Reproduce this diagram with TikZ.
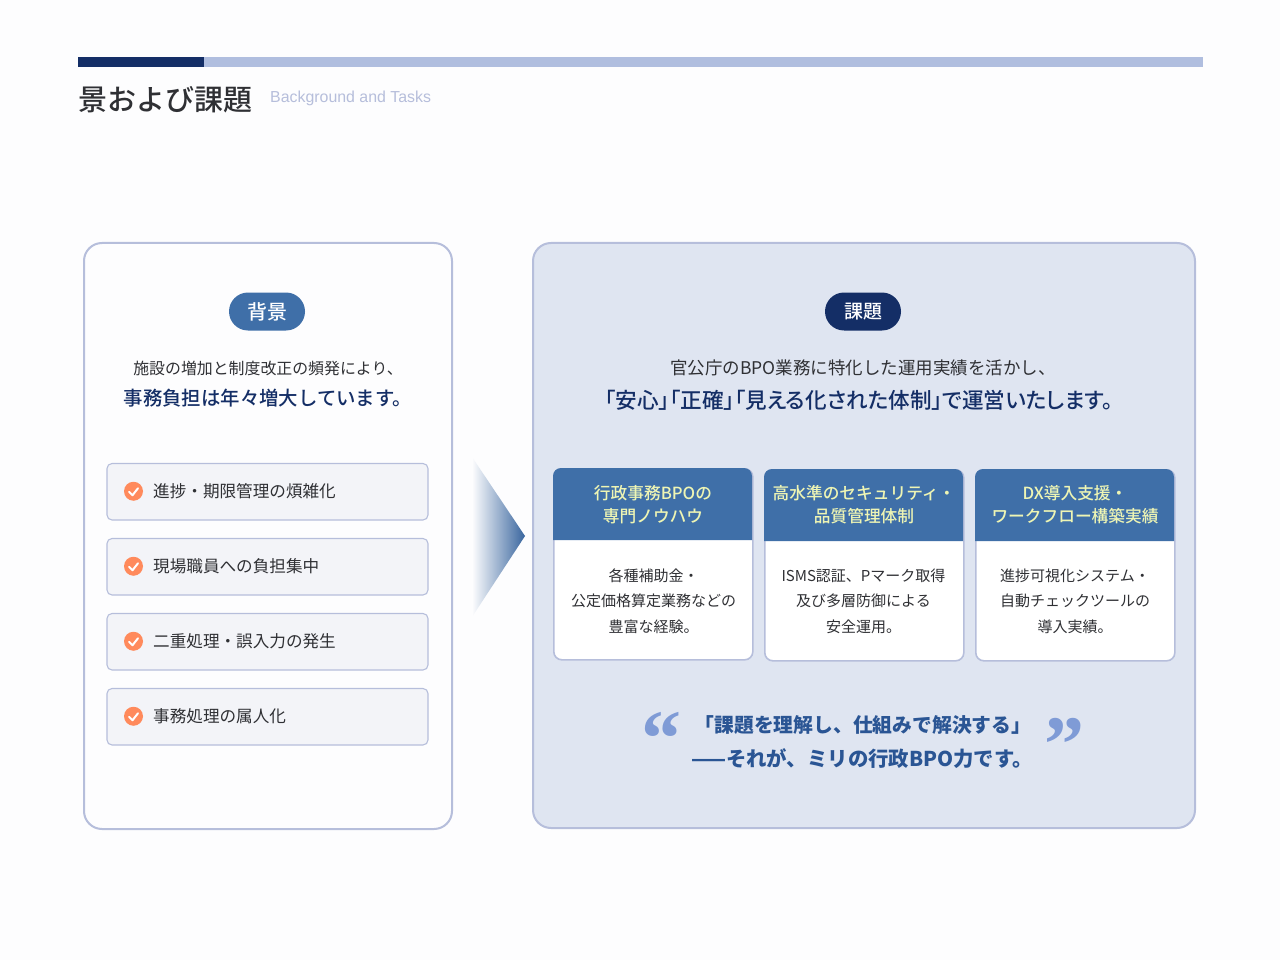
\documentclass[tikz,border=0pt]{standalone}
\usepackage{fontspec}
\setmainfont{Noto Sans CJK JP}
\newfontfamily\medfont{Noto Sans CJK JP Medium}
\newfontfamily\tightfont{Noto Sans CJK JP Medium}[RawFeature=+palt]
\newfontfamily\latinfont{Liberation Sans}
\newfontfamily\quotefont{Liberation Serif}
\usepackage{tikz}
\definecolor{navy}{HTML}{142E66}
\definecolor{midblue}{HTML}{3F6FA8}
\definecolor{barblue}{HTML}{B0BEDF}
\definecolor{edgeblue}{HTML}{B6BEDB}
\definecolor{paleblue}{HTML}{DFE5F1}
\definecolor{itemgrey}{HTML}{F3F4F8}
\definecolor{tickorange}{HTML}{FF8A5C}
\definecolor{inkgrey}{HTML}{2F3034}
\definecolor{capyellow}{HTML}{EEF5B4}
\definecolor{quoteblue}{HTML}{7F9BD6}
\definecolor{saytext}{HTML}{2A5594}
\definecolor{sheet}{HTML}{FDFDFE}
\newcommand{\fs}[2]{\fontsize{#1}{#2}\selectfont}

\begin{document}
\begin{tikzpicture}
  [x=1pt,y=-1pt,every node/.style={inner sep=0pt,text=inkgrey},
   panel/.style={draw=edgeblue,line width=2pt,rounded corners=18pt},
   pill/.style={rounded corners=19pt,minimum width=76pt,minimum height=38pt,text=white},
   item/.style={draw=edgeblue,line width=1.1pt,fill=itemgrey,rounded corners=5pt,minimum width=321pt,minimum height=56.5pt},
   tick/.style={circle,fill=tickorange,minimum size=19pt},
   card/.style={draw=edgeblue,line width=1.6pt,fill=white,rounded corners=8pt,minimum width=199pt,minimum height=191pt},
   captext/.style={align=center,text=capyellow,font=\medfont\fs{16.7}{23.5}},
   bodytext/.style={align=center,font=\fs{15}{25.5}}]
  \useasboundingbox (0,0) rectangle (1280,960);
  \fill[sheet] (0,0) rectangle (1280,960);

  \fill[navy] (78,57) rectangle (204,67);
  \fill[barblue] (204,57) rectangle (1203,67);
  \node[anchor=west,font=\medfont\fs{29}{29}] (title) at (78,100) {景および課題};
  \node[anchor=west,text=edgeblue,font=\latinfont\fs{15.9}{16}] (subtitle) at (270,98) {Background and Tasks};

  \node[panel,fill=sheet,minimum width=368pt,minimum height=586pt] (left) at (268,536) {};
  \node[panel,fill=paleblue,minimum width=662pt,minimum height=585pt] (right) at (864,535.5) {};

  \node[pill,fill=midblue,font=\medfont\fs{20}{20}] (bg) at (267,311.5) {背景};
  \node[pill,fill=navy,font=\medfont\fs{19}{19}] (task) at (863,311.5) {課題};

  \node[font=\fs{15.9}{16}] (bgone) at (268,368.5) {施設の増加と制度改正の頻発により、};
  \node[text=navy,font=\medfont\fs{19.4}{20}] (bgtwo) at (268,398) {事務負担は年々増大しています。};
  \node[font=\fs{17.5}{18}] (taskone) at (863,367.5) {官公庁のBPO業務に特化した運用実績を活かし、};
  \node[text=navy,font=\tightfont\fs{21.6}{22}] (tasktwo) at (859,400) {「安心」「正確」「見える化された体制」で運営いたします。};

  % list on the left
  \foreach \n/\y/\txt in {1/491.75/進捗・期限管理の煩雑化,2/566.75/現場職員への負担集中,3/641.75/二重処理・誤入力の発生,4/716.75/事務処理の属人化} {
    \node[item] (item\n) at (267.5,\y) {};
    \node[tick] (tick\n) at (133.5,\y-0.5) {};
    \draw[white,line width=2pt,line cap=round,line join=round]
      ([shift={(-4.5,0.5)}]tick\n.center) -- ([shift={(-1,4)}]tick\n.center) -- ([shift={(4.5,-3)}]tick\n.center);
    \node[anchor=west,font=\fs{16.6}{17}] (label\n) at (153,\y-0.75) {\txt};
  }

  % arrow between the panels
  \begin{scope}
    \clip (472,457) -- (525,536) -- (472,617) -- cycle;
    \shade[left color=sheet,right color=midblue!85!navy] (472,457) rectangle (525,617);
  \end{scope}

  % three cards
  \foreach \n/\xl/\yt in {1/553/468,2/764/469,3/975/469} {
    \node[card,anchor=north west] (card\n) at (\xl,\yt) {};
    \fill[midblue,rounded corners=8pt] (\xl,\yt+72) -- (\xl,\yt) -- (\xl+199,\yt) [sharp corners] -- (\xl+199,\yt+72) -- cycle;
  }
  \node[captext] (capone) at (653,504.5) {行政事務BPOの\\専門ノウハウ};
  \node[captext] (captwo) at (864,504.5) {高水準のセキュリティ・\\品質管理体制};
  \node[captext] (capthree) at (1075,504.5) {DX導入支援・\\ワークフロー構築実績};
  \node[bodytext] (bodyone) at (653.5,601) {各種補助金・\\公定価格算定業務などの\\豊富な経験。};
  \node[bodytext] (bodytwo) at (863.5,601) {ISMS認証、Pマーク取得\\及び多層防御による\\安全運用。};
  \node[bodytext] (bodythree) at (1075,601) {進捗可視化システム・\\自動チェックツールの\\導入実績。};

  % closing words
  \node[text=quoteblue,font=\quotefont\bfseries\fs{80}{80}] (open) at (661.5,739) {“};
  \node[text=quoteblue,font=\quotefont\bfseries\fs{80}{80}] (close) at (1064,745) {”};
  \node[text=saytext,font=\bfseries\fs{19.8}{20}] (sayone) at (863,725) {「課題を理解し、仕組みで解決する」};
  \node[text=saytext,font=\bfseries\fs{20.4}{21}] (saytwo) at (862,759) {——それが、ミリの行政BPO力です。};
\end{tikzpicture}
\end{document}
